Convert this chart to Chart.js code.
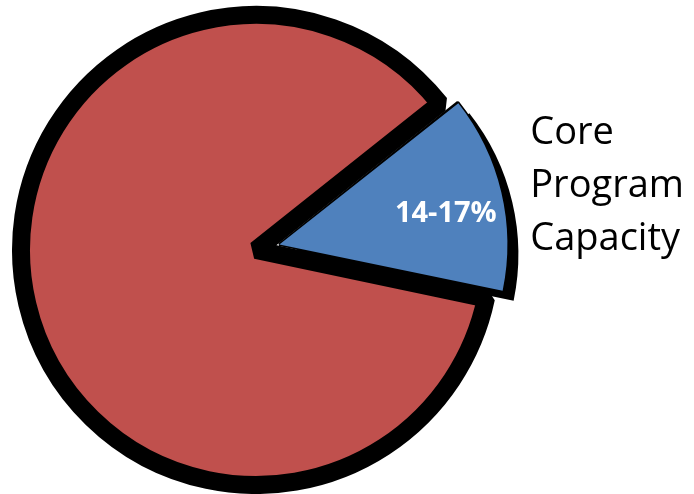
<!DOCTYPE html>
<html lang="en">
<head>
<meta charset="UTF-8">
<title>Core Program Capacity</title>
<script src="https://cdn.jsdelivr.net/npm/chart.js"></script>
<style>
  html, body { margin: 0; padding: 0; background: #fff; overflow: hidden; }
  .chart-box { position: relative; width: 694px; height: 494px; }
</style>
</head>
<body>
<div class="chart-box"><canvas id="capacityChart"></canvas></div>
<script>
// Share of capacity; the first slice is the one pulled out
const categories = [['Core', 'Program', 'Capacity'], 'Other'];
const shares = [14, 86];
const shareLabels = ['14-17%', ''];
const sliceColors = ['#4F81BD', '#C0504D'];

const CORE = 0;
const CORE_SHRINK = 12.5; // core slice sits a little inside the ring

// centre / radius of the pulled-out slice as the arc element draws it
function coreGeometry(arc) {
    const mid = (arc.startAngle + arc.endAngle) / 2;
    const shift = arc.options.offset / 4;
    const fix = 1 - Math.sin(Math.min(Math.PI, arc.endAngle - arc.startAngle));
    return {
        mid,
        cx: arc.x + Math.cos(mid) * shift,
        cy: arc.y + Math.sin(mid) * shift,
        r: arc.outerRadius + shift * fix
    };
}

const sliceLook = {
    id: 'sliceLook',
    afterDatasetUpdate(chart) {
        chart.getDatasetMeta(0).data[CORE].outerRadius -= CORE_SHRINK;
    },
    // hard black drop shadow (plus a thin edge) under the core slice
    beforeDatasetDraw(chart) {
        const ctx = chart.ctx;
        const arc = chart.getDatasetMeta(0).data[CORE];
        const g = coreGeometry(arc);
        ctx.save();
        ctx.shadowColor = '#000';
        ctx.shadowBlur = 0;
        ctx.shadowOffsetX = 11;
        ctx.shadowOffsetY = 10;
        arc.draw(ctx);
        ctx.restore();

        ctx.save();
        ctx.beginPath();
        ctx.moveTo(g.cx, g.cy);
        ctx.arc(g.cx, g.cy, g.r, arc.startAngle, arc.endAngle);
        ctx.closePath();
        ctx.lineWidth = 3;
        ctx.lineJoin = 'bevel';
        ctx.strokeStyle = '#000';
        ctx.stroke();
        ctx.restore();
    },
    afterDatasetsDraw(chart) {
        const ctx = chart.ctx;
        const arc = chart.getDatasetMeta(0).data[CORE];
        const g = coreGeometry(arc);
        ctx.save();

        // value inside the slice
        ctx.fillStyle = '#fff';
        ctx.font = 'bold 29px "Open Sans"';
        ctx.textAlign = 'center';
        ctx.textBaseline = 'alphabetic';
        const lx = g.cx + Math.cos(g.mid) * g.r * 0.75;
        const ly = g.cy + Math.sin(g.mid) * g.r * 0.75 + 7;
        ctx.fillText(shareLabels[CORE], lx, ly + 10);

        // category name to the right of the slice
        const lines = categories[CORE];
        const lineHeight = 53;
        const capHeight = 27;
        const tx = g.cx + Math.cos(g.mid) * g.r + 29;
        const ty = g.cy + Math.sin(g.mid) * g.r - 9;
        ctx.fillStyle = '#000';
        ctx.font = '38px "Open Sans"';
        ctx.textAlign = 'left';
        const first = ty - (lines.length - 1) / 2 * lineHeight + capHeight / 2;
        lines.forEach((line, i) => ctx.fillText(line, tx, first + i * lineHeight));

        ctx.restore();
    }
};

const ctx = document.getElementById('capacityChart').getContext('2d');
new Chart(ctx, {
    type: 'pie',
    data: {
        labels: categories,
        datasets: [{
            data: shares,
            backgroundColor: sliceColors,
            borderColor: '#000',
            borderWidth: [0, 18],
            offset: [96, 0],
            hoverOffset: 0,
            clip: false
        }]
    },
    options: {
        responsive: true,
        maintainAspectRatio: false,
        devicePixelRatio: 1,
        animation: false,
        events: [],
        rotation: 51.5,
        radius: 235,
        layout: { padding: { left: 0, right: 182, top: 6, bottom: 0 } },
        plugins: {
            legend: { display: false },
            tooltip: { enabled: false }
        }
    },
    plugins: [sliceLook]
});
</script>
</body>
</html>
